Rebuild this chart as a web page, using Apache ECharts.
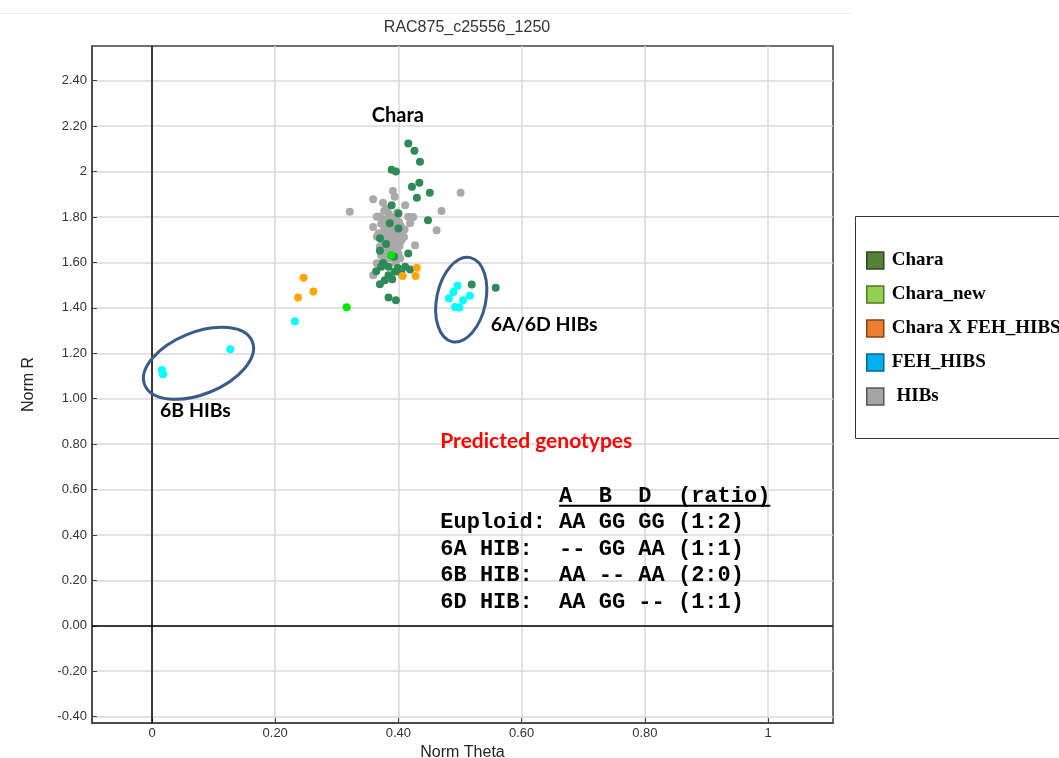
<!DOCTYPE html>
<html><head><meta charset="utf-8">
<script src="https://cdn.jsdelivr.net/npm/echarts@6/dist/echarts.min.js"></script>
<style>html,body{margin:0;padding:0;background:#fff}#c{width:1059px;height:758px}</style>
</head><body><div id="c"></div>
<script>
// ---------- data ----------
const chartTitle = 'RAC875_c25556_1250';
const xAxisName = 'Norm Theta';
const yAxisName = 'Norm R';
const xTicks = [0, 0.2, 0.4, 0.6, 0.8, 1];
const xTickLabels = ['0', '0.20', '0.40', '0.60', '0.80', '1'];
const yTicks = [-0.4, -0.2, 0, 0.2, 0.4, 0.6, 0.8, 1.0, 1.2, 1.4, 1.6, 1.8, 2.0, 2.2, 2.4];
const yTickLabels = ['-0.40', '-0.20', '0.00', '0.20', '0.40', '0.60', '0.80', '1.00', '1.20', '1.40', '1.60', '1.80', '2', '2.20', '2.40'];
const seriesNames = ['Chara', 'Chara_new', 'Chara X FEH_HIBS', 'FEH_HIBS', 'HIBs'];

const charaPoints = [
  [0.416,2.124],[0.426,2.092],[0.435,2.043],[0.389,2.008],[0.396,2.000],[0.434,1.951],[0.422,1.933],
  [0.451,1.907],[0.430,1.885],[0.389,1.852],[0.400,1.815],[0.448,1.786],[0.386,1.772],[0.400,1.749],
  [0.370,1.706],[0.380,1.681],[0.416,1.639],[0.370,1.651],[0.393,1.625],[0.375,1.598],[0.372,1.581],
  [0.384,1.581],[0.394,1.559],[0.411,1.581],[0.419,1.569],[0.405,1.552],[0.384,1.544],[0.378,1.522],
  [0.370,1.504],[0.384,1.446],[0.396,1.434],[0.519,1.503],[0.558,1.488],[0.399,1.575],[0.390,1.526],
  [0.364,1.561]
];
const charaNewPoints = [[0.388,1.632],[0.316,1.403]];
const charaXFehPoints = [[0.246,1.532],[0.262,1.472],[0.237,1.446],[0.430,1.577],[0.407,1.540],[0.428,1.540]];
const fehPoints = [
  [0.016,1.126],[0.018,1.108],[0.127,1.218],[0.232,1.341],[0.496,1.497],[0.489,1.470],
  [0.482,1.441],[0.505,1.434],[0.516,1.453],[0.492,1.404],[0.499,1.402]
];
const hibsPoints = [
  [0.501,1.907],[0.321,1.823],[0.470,1.827],[0.462,1.742],[0.427,1.676],[0.359,1.878],[0.391,1.914],
  [0.394,1.889],[0.375,1.863],[0.381,1.838],[0.411,1.852],[0.384,1.816],[0.424,1.800],[0.370,1.801],
  [0.365,1.801],[0.416,1.801],[0.419,1.772],[0.359,1.756],[0.365,1.713],[0.370,1.669],[0.365,1.596],
  [0.359,1.544],[0.405,1.698],[0.397,1.610],
  [0.380,1.790],[0.389,1.782],[0.395,1.795],[0.401,1.778],[0.372,1.770],[0.383,1.760],[0.392,1.752],
  [0.404,1.760],[0.410,1.745],[0.376,1.740],[0.386,1.735],[0.396,1.728],[0.406,1.722],[0.368,1.728],
  [0.380,1.718],[0.390,1.710],[0.399,1.700],[0.409,1.712],[0.374,1.695],[0.384,1.690],[0.394,1.680],
  [0.402,1.672],[0.378,1.675],[0.388,1.665],[0.398,1.655],[0.380,1.645],[0.390,1.640],[0.400,1.638],
  [0.372,1.630],[0.386,1.620],[0.395,1.600],[0.378,1.612],[0.403,1.618],[0.396,1.770],[0.388,1.800],
  [0.398,1.820],[0.377,1.828]
];

const annotationTexts = ['Chara', '6B HIBs', '6A/6D HIBs', 'Predicted genotypes'];
const tableHeader = '         A  B  D  (ratio)';
const tableRows = [
  'Euploid: AA GG GG (1:2)',
  '6A HIB:  -- GG AA (1:1)',
  '6B HIB:  AA -- AA (2:0)',
  '6D HIB:  AA GG -- (1:1)'
];

// ---------- styles ----------
const pointColors = ['#2e8b57', '#00e600', '#ffa500', '#00ffff', '#a9a9a9'];
const legendColors = ['#538135', '#92d050', '#ed7d31', '#00b0f0', '#a5a5a5'];
const legendBorders = ['#2f4a1f', '#4d7a22', '#8a4414', '#006a90', '#555555'];

const chart = echarts.init(document.getElementById('c'), null, {renderer: 'canvas'});

function labelFor(ticks, labels) {
  return function (v) {
    const i = ticks.findIndex(t => Math.abs(t - v) < 1e-6);
    return i >= 0 ? labels[i] : '';
  };
}

const axisFont = {fontFamily: 'Liberation Sans', fontSize: 13, color: '#333'};

const seriesData = {
  'Chara': charaPoints, 'Chara_new': charaNewPoints, 'Chara X FEH_HIBS': charaXFehPoints,
  'FEH_HIBS': fehPoints, 'HIBs': hibsPoints
};
const drawOrder = ['HIBs', 'Chara', 'Chara X FEH_HIBS', 'FEH_HIBS', 'Chara_new'];

const series = drawOrder.map(name => {
  const idx = seriesNames.indexOf(name);
  const s = {
    name: name, type: 'scatter', data: seriesData[name], symbolSize: 8,
    itemStyle: {color: pointColors[idx], opacity: 1},
    emphasis: {disabled: true}
  };
  if (name === 'HIBs') {
    s.markLine = {
      silent: true, symbol: ['none', 'none'], label: {show: false},
      lineStyle: {color: '#000', width: 1.5, type: 'solid'},
      data: [{xAxis: 0}, {yAxis: 0}]
    };
  }
  return s;
});

chart.setOption({
  animation: false,
  backgroundColor: '#fff',
  title: {
    text: chartTitle, left: 462, top: 15, textAlign: 'center',
    textStyle: {fontFamily: 'Liberation Sans', fontSize: 16, fontWeight: 'normal', color: '#333'}
  },
  grid: {left: 92, top: 46, width: 741, height: 677, outerBoundsMode: 'none', containLabel: false,
    show: true, borderColor: '#404040', borderWidth: 1.5, backgroundColor: '#fff'},
  xAxis: {
    type: 'value', min: -0.0974, max: 1.1055,
    name: xAxisName, nameLocation: 'middle', nameGap: 12,
    nameTextStyle: {fontFamily: 'Liberation Sans', fontSize: 16, color: '#222'},
    axisLine: {show: true, onZero: false, lineStyle: {color: '#404040', width: 1.5}},
    axisTick: {show: true, inside: true, length: 5, customValues: xTicks, lineStyle: {color: '#404040'}},
    axisLabel: Object.assign({customValues: xTicks, margin: 4, formatter: labelFor(xTicks, xTickLabels)}, axisFont),
    splitLine: {show: true, lineStyle: {color: '#d9d9d9', width: 1.5}}
  },
  yAxis: {
    type: 'value', min: -0.428, max: 2.553,
    name: yAxisName, nameLocation: 'middle', nameGap: 55, nameRotate: 90,
    nameTextStyle: {fontFamily: 'Liberation Sans', fontSize: 16, color: '#222'},
    axisLine: {show: true, onZero: false, lineStyle: {color: '#404040', width: 1.5}},
    axisTick: {show: true, inside: true, length: 5, customValues: yTicks, lineStyle: {color: '#404040'}},
    axisLabel: Object.assign({customValues: yTicks, margin: 5, formatter: labelFor(yTicks, yTickLabels)}, axisFont),
    splitLine: {show: true, lineStyle: {color: '#d9d9d9', width: 1.5}}
  },
  legend: {
    orient: 'vertical', left: 866, top: 251, padding: 0, itemWidth: 17, itemHeight: 17, itemGap: 15,
    icon: 'rect', selectedMode: false,
    data: seriesNames.map((n, i) => ({name: n, itemStyle: {color: legendColors[i], borderColor: legendBorders[i], borderWidth: 1.5}})),
    formatter: n => (n === 'HIBs' ? ' HIBs' : n),
    textStyle: {fontFamily: 'Liberation Serif', fontWeight: 'bold', fontSize: 19, color: '#000', padding: [0, 0, 0, 3]}
  },
  series: series
});

// ---------- annotations (anchored in data coordinates) ----------
function px(x, y) { return chart.convertToPixel({gridIndex: 0}, [x, y]); }

const annoAnchors = [[0.399, 2.245, 'center'], [0.013, 0.945, 'left'], [0.550, 1.324, 'left'], [0.468, 0.813, 'left']];
const annoColors = ['#000', '#000', '#000', '#ff0000'];
const annoSizes = [20, 19.5, 19.5, 21];
const ellipses = [
  {c: [0.0755, 1.156], rx: 58, ry: 31, rot: 22},
  {c: [0.502, 1.436], rx: 43, ry: 24.5, rot: 78}
];
const tableAnchor = [0.468, 0.570];
const monoSize = 22, rowGap = 26.5;

const graphics = [];
graphics.push({type: 'line', silent: true, shape: {x1: 0, y1: 13.5, x2: 850, y2: 13.5}, style: {stroke: '#ececec', lineWidth: 1}});
graphics.push({type: 'rect', silent: true, z: -1, shape: {x: 855.5, y: 216.5, width: 215, height: 222}, style: {fill: '#fff', stroke: '#333', lineWidth: 1}});

ellipses.forEach(e => {
  const p = px(e.c[0], e.c[1]);
  graphics.push({type: 'ellipse', silent: true, x: p[0], y: p[1], rotation: e.rot * Math.PI / 180,
    shape: {cx: 0, cy: 0, rx: e.rx, ry: e.ry}, style: {fill: 'none', stroke: '#3a5a87', lineWidth: 3}, z: 10});
});

annotationTexts.forEach((t, i) => {
  const a = annoAnchors[i];
  const p = px(a[0], a[1]);
  graphics.push({type: 'text', silent: true, x: p[0], y: p[1], z: 10,
    style: {text: t, fill: annoColors[i], font: 'bold ' + annoSizes[i] + 'px Lato', textAlign: a[2], textVerticalAlign: 'middle'}});
});

const tp = px(tableAnchor[0], tableAnchor[1]);
const cw = monoSize * 0.6;
graphics.push({type: 'text', silent: true, x: tp[0], y: tp[1], z: 10,
  style: {text: tableHeader, fill: '#000', font: 'bold ' + monoSize + 'px "Liberation Mono"', textAlign: 'left', textVerticalAlign: 'middle'}});
const firstChar = tableHeader.search(/\S/);
graphics.push({type: 'line', silent: true, z: 10,
  shape: {x1: tp[0] + firstChar * cw, y1: tp[1] + 9.5, x2: tp[0] + tableHeader.length * cw, y2: tp[1] + 9.5},
  style: {stroke: '#000', lineWidth: 2}});
tableRows.forEach((r, i) => {
  graphics.push({type: 'text', silent: true, x: tp[0], y: tp[1] + rowGap * (i + 1), z: 10,
    style: {text: r, fill: '#000', font: 'bold ' + monoSize + 'px "Liberation Mono"', textAlign: 'left', textVerticalAlign: 'middle'}});
});

chart.setOption({graphic: graphics});
</script>
</body></html>
